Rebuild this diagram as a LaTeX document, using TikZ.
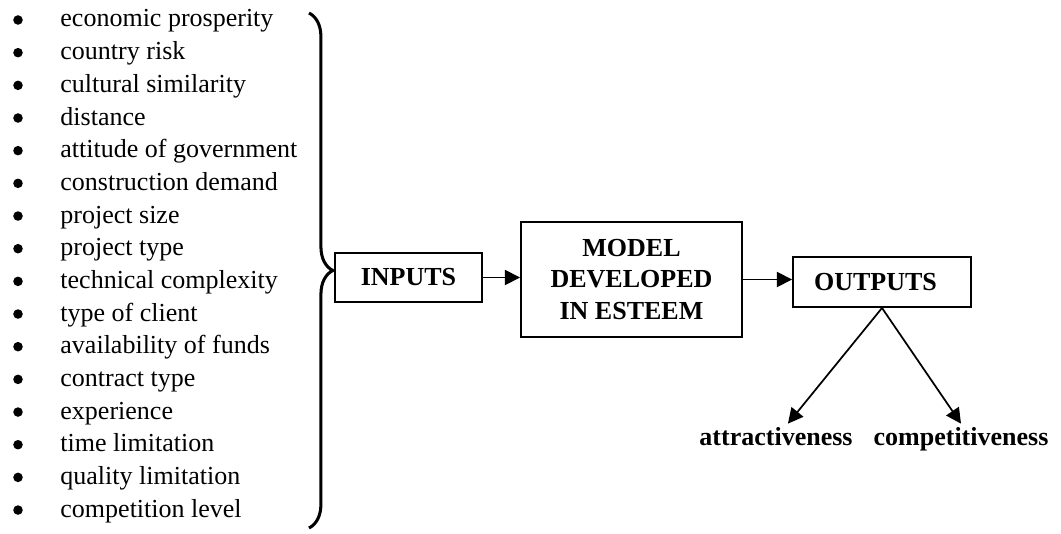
\documentclass[tikz,border=0pt]{standalone}
\usepackage{fontspec}
\setmainfont{Liberation Serif}
\usetikzlibrary{arrows.meta,decorations.pathreplacing}

\begin{document}
\begin{tikzpicture}[x=0.4615pt, y=-0.4615pt, font=\fontsize{12}{14.5}\selectfont,
    box/.style={draw, line width=0.9pt, font=\fontsize{12}{14.5}\selectfont\bfseries, align=center},
    arr/.style={-{Triangle[length=7pt, width=7pt]}, line width=0.8pt}]
    \useasboundingbox (0,0) rectangle (1061,533);

    % factors
    \foreach \txt [count=\i] in {economic prosperity, country risk, cultural similarity,
        distance, attitude of government, construction demand, project size,
        project type, technical complexity, type of client, availability of funds,
        contract type, experience, time limitation, quality limitation, competition level}
    {
        \node[circle, fill, inner sep=0pt, minimum size=4.4pt] (b\i) at (18, {20+32.67*(\i-1)}) {};
        \node[anchor=base west, inner sep=0pt] (it\i) at (60, {27+32.67*(\i-1)}) {\txt};
    }
    \draw[line width=1.4pt, decorate, decoration={brace, amplitude=11pt, aspect=0.5}]
        (309,13) -- (309,528);

    \node[box, minimum width=147*0.4615pt, minimum height=49*0.4615pt] (inputs) at (408.5,277.5) {INPUTS};
    \node[box, minimum width=221*0.4615pt, minimum height=115*0.4615pt] (model) at (631.5,279.5)
        {MODEL\\DEVELOPED\\IN ESTEEM};
    \node[box, minimum width=178*0.4615pt, minimum height=50*0.4615pt] (outputs) at (882,282) {OUTPUTS\hspace{6pt}};

    \node[anchor=base, font=\fontsize{12}{14.5}\selectfont\bfseries] (attr) at (776,445) {attractiveness};
    \node[anchor=base, font=\fontsize{12}{14.5}\selectfont\bfseries] (comp) at (961,445) {competitiveness};

    \draw[arr] (inputs.east) -- (inputs.east -| model.west);
    \draw[arr] (model.east) -- (model.east -| outputs.west);
    \draw[arr] (outputs.south) -- ([xshift=5.5pt, yshift=-2pt]attr.north);
    \draw[arr] (outputs.south) -- ([yshift=-2pt]comp.north);
\end{tikzpicture}
\end{document}
